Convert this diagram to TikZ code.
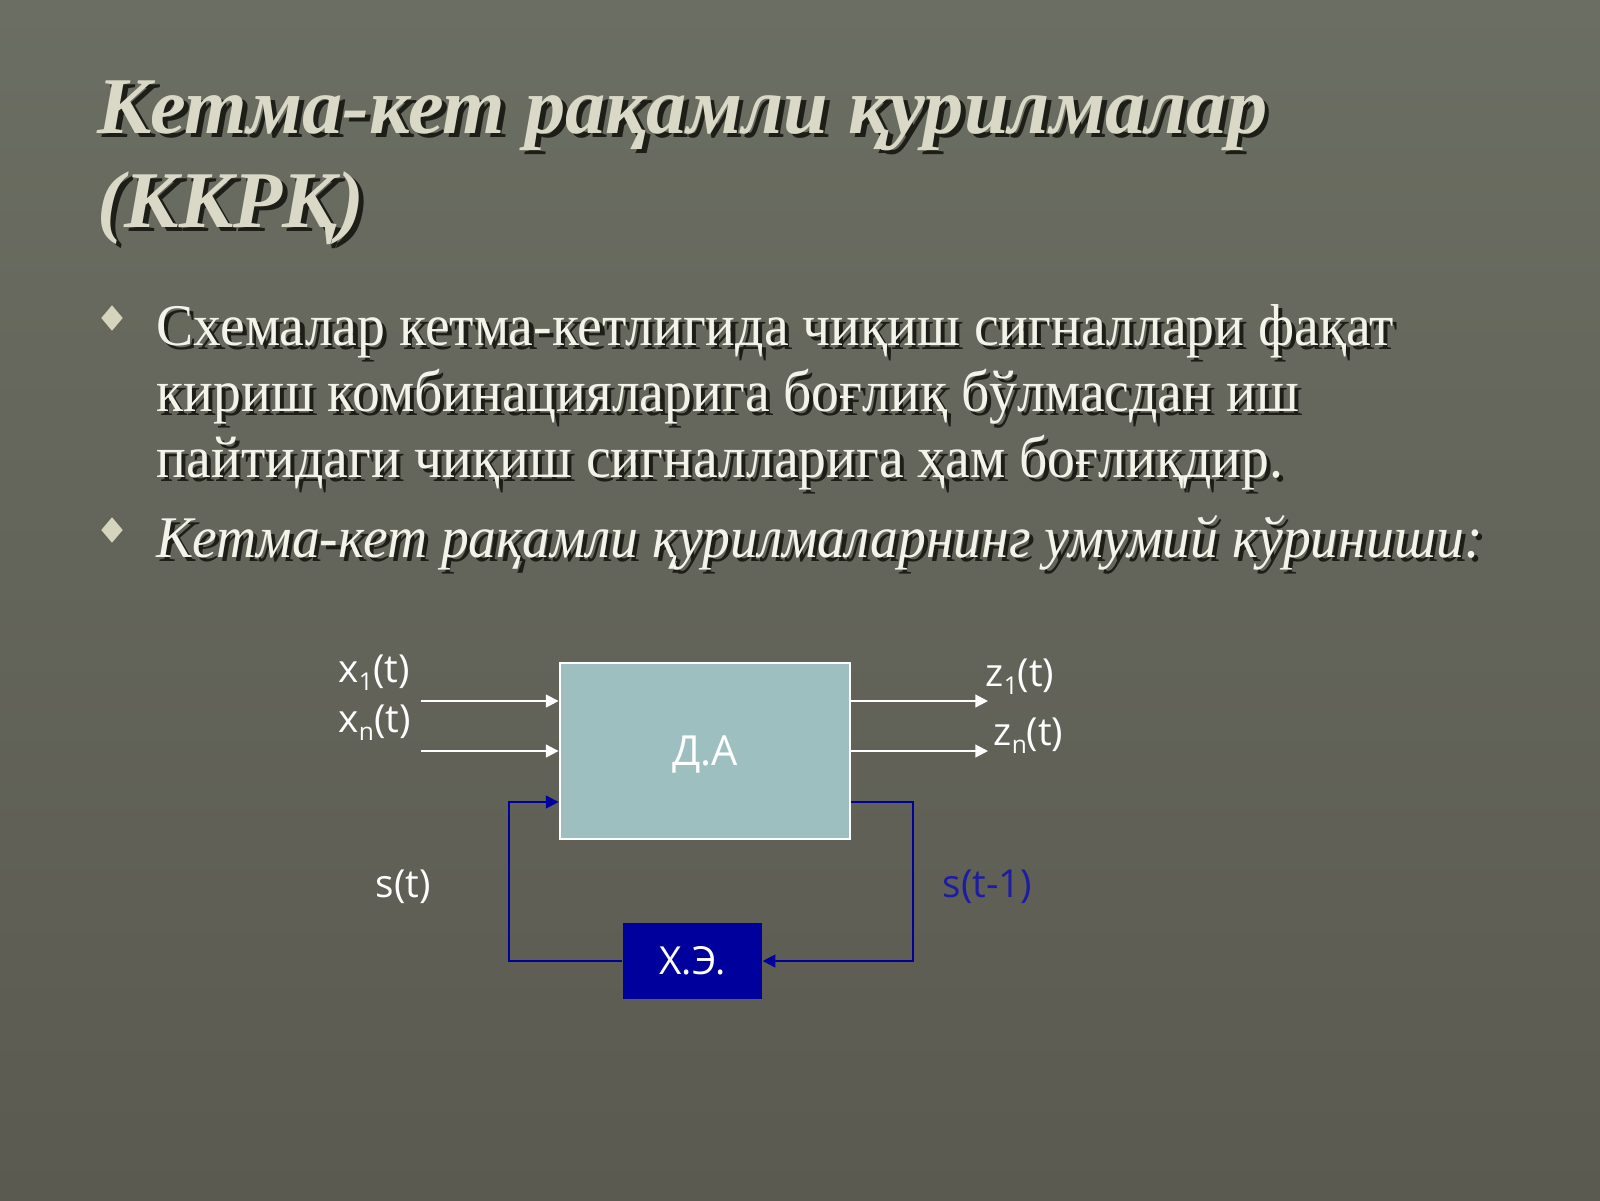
\documentclass[tikz,border=0pt]{standalone}
\usepackage{fontspec}
\setmainfont{Liberation Serif}
\newfontfamily\bodyfont{Liberation Serif}[FakeStretch=0.943]
\newfontfamily\diafont{Open Sans}
\usetikzlibrary{arrows.meta,shapes.geometric,calc,positioning}
\definecolor{bgtop}{HTML}{6B6E62}
\definecolor{bgbot}{HTML}{5B5A51}
\definecolor{titlec}{HTML}{DAD9C7}
\definecolor{textc}{HTML}{F4F3EA}
\definecolor{shadowc}{HTML}{1E1E18}
\definecolor{boxc}{HTML}{9DBFC0}
\definecolor{navyc}{HTML}{00009C}
\definecolor{labelc}{HTML}{1C1CA4}
\definecolor{bulletc}{HTML}{D5D5BD}
\newcommand{\shd}[2][1.2pt]{\rlap{\kern#1\raisebox{-#1}{\textcolor{shadowc}{#2}}}#2}
\newcommand{\sub}[1]{\raisebox{-0.4ex}{\fontsize{7}{8}\selectfont#1}}
\tikzstyle{titleText} = [font=\fontsize{22.9}{27}\selectfont\bfseries\itshape, text=titlec, anchor=base west, inner sep=0pt]
\tikzstyle{bodyText} = [font=\bodyfont\fontsize{16.8}{20}\selectfont, text=textc, anchor=base west, inner sep=0pt]
\tikzstyle{bulletMark} = [diamond, fill=bulletc, inner sep=0pt, minimum width=0.22cm, minimum height=0.26cm]
\tikzstyle{sigText} = [font=\diafont\fontsize{11}{13}\selectfont, text=white, anchor=west, inner sep=0pt]
\tikzstyle{sigArrow} = [draw=white, line width=0.6pt, -{Triangle[length=3.6pt,width=3.6pt]}]
\tikzstyle{loopArrow} = [draw=navyc, line width=0.6pt, -{Triangle[length=3.6pt,width=3.6pt]}]
\begin{document}
\begin{tikzpicture}
	\fill[top color=bgtop, bottom color=bgbot] (0,0) rectangle (16,-12);
	\useasboundingbox (0,0) rectangle (16,-12);
	
	\node (title1) at (0.97,-1.33) [titleText] {\shd[1.4pt]{Кетма-кет рақамли қурилмалар}};
	\node (title2) at (0.97,-2.27) [titleText] {\shd[1.4pt]{(ККРҚ)}};
	
	\node (dot1) at (1.12,-3.18) [bulletMark] {};
	\node (line1) at (1.56,-3.45) [bodyText] {\shd{Схемалар кетма-кетлигида чиқиш сигналлари фақат}};
	\node (line2) at (1.56,-4.11) [bodyText] {\shd{кириш комбинацияларига боғлиқ бўлмасдан иш}};
	\node (line3) at (1.56,-4.77) [bodyText] {\shd{пайтидаги чиқиш сигналларига ҳам боғлиқдир.}};
	\node (dot2) at (1.12,-5.30) [bulletMark] {};
	\node (line4) at (1.56,-5.57) [bodyText, font=\bodyfont\fontsize{16.8}{20}\selectfont\itshape] {\shd{Кетма-кет рақамли қурилмаларнинг умумий кўриниши:}};
	
	\node (DA) at (7.05,-7.51) [draw=white, line width=0.8pt, fill=boxc, minimum width=2.9cm, minimum height=1.76cm, font=\diafont\fontsize{11.8}{14}\selectfont, text=white, text depth=-0.12cm] {Д.А};
	\node (XE) at (6.925,-9.61) [fill=navyc, minimum width=1.39cm, minimum height=0.76cm, font=\diafont\fontsize{11}{13}\selectfont, text=white] {Х.Э.};
	
	\node (x1) at (3.38,-6.73) [sigText] {x\sub{1}(t)};
	\node (xn) at (3.38,-7.23) [sigText] {x\sub{n}(t)};
	\node (z1) at (9.85,-6.77) [sigText] {z\sub{1}(t)};
	\node (zn) at (9.93,-7.36) [sigText] {z\sub{n}(t)};
	\node (st) at (3.75,-8.87) [sigText] {s(t)};
	\node (st1) at (9.42,-8.87) [sigText, text=labelc] {s(t-1)};
	
	\coordinate (in1) at (4.21,-7.01);
	\coordinate (in2) at (4.21,-7.51);
	\coordinate (out1) at (9.88,-7.01);
	\coordinate (out2) at (9.88,-7.51);
	\coordinate (fbR) at (9.13,-8.02);
	\coordinate (fbL) at (5.09,-8.02);
	
	\draw[sigArrow] (in1) -- (in1 -| DA.west);
	\draw[sigArrow] (in2) -- (in2 -| DA.west);
	\draw[sigArrow] (out1 -| DA.east) -- (out1);
	\draw[sigArrow] (out2 -| DA.east) -- (out2);
	\draw[loopArrow] (DA.east |- fbR) -- (fbR) |- (XE.east);
	\draw[loopArrow] (XE.west) -| (fbL) -- (DA.west |- fbL);
\end{tikzpicture}
\end{document}
